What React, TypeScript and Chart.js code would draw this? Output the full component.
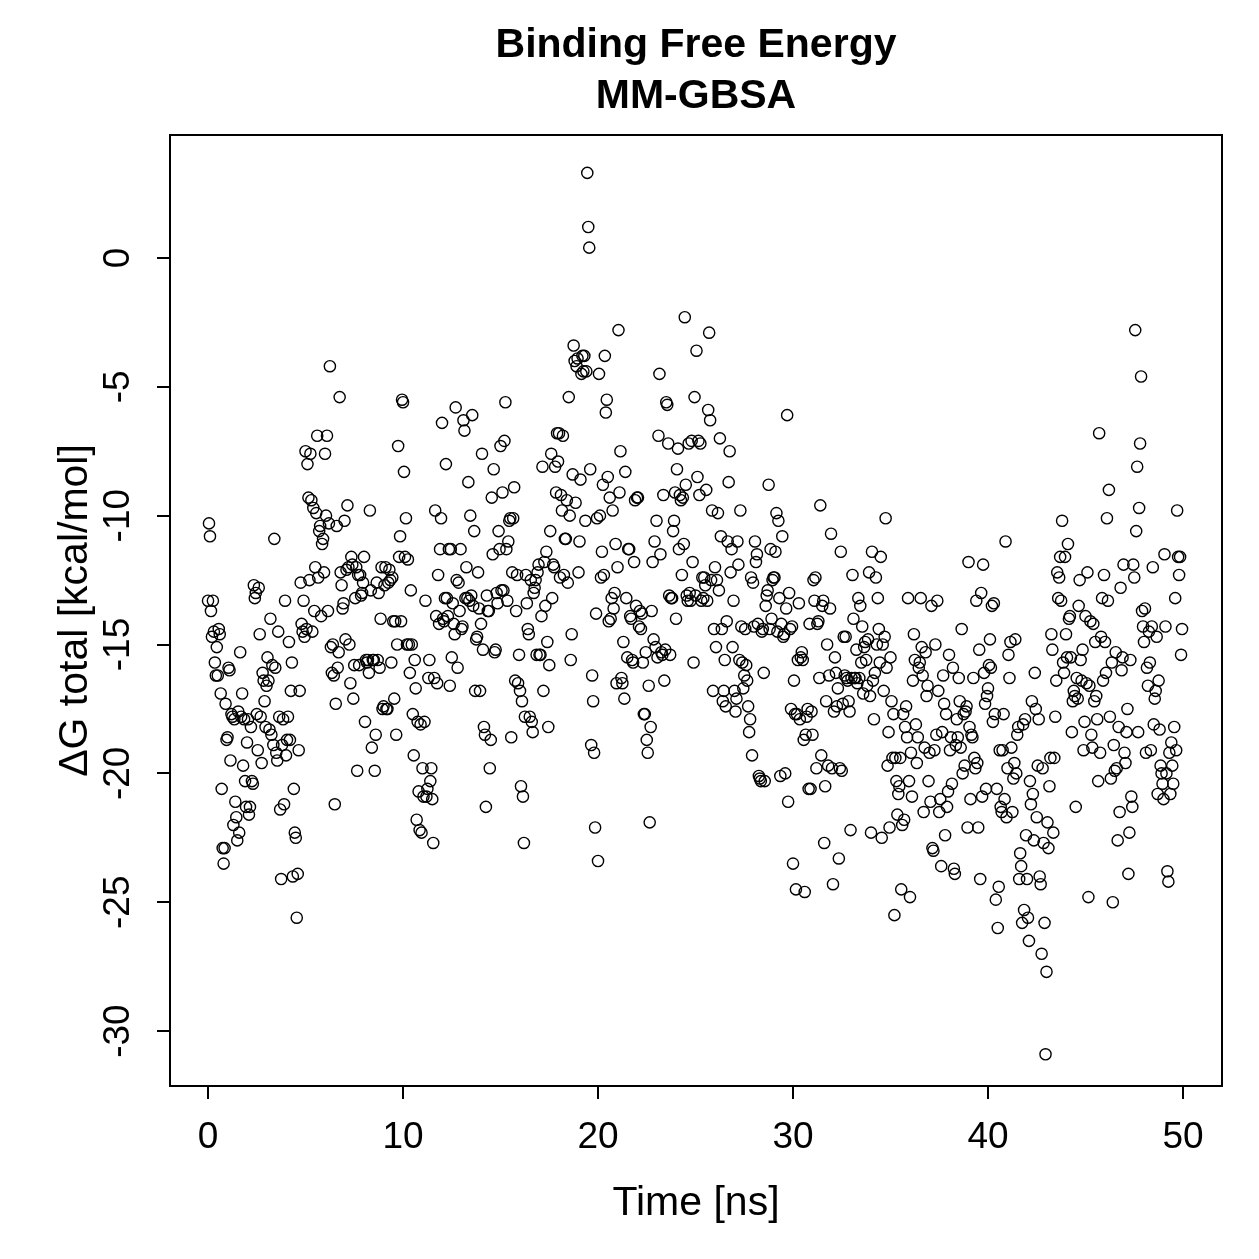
import { useEffect, useRef } from "react";
import { Chart, registerables } from "chart.js";

Chart.register(...registerables);

// Titles and axis labels
const chartTitle = ["Binding Free Energy", "MM-GBSA"];
const xAxisTitle = "Time [ns]";
const yAxisTitle = "ΔG total [kcal/mol]";

// Tick labels
const xTicks = [0, 10, 20, 30, 40, 50];
const yTicks = [0, -5, -10, -15, -20, -25, -30];

// Trajectory frames are saved every 0.05 ns (20 frames per ns)
const frameStep = 0.05;

// ΔG total per frame [kcal/mol], 0–5 ns
const dG_00_05 = [
  -13.3, -10.3, -10.8, -13.7, -14.7, -13.3, -14.5, -15.7, -16.2, -15.1, -16.2, -14.4, -14.6, -16.9, -20.6, -22.9, -23.5, -22.9, -17.3, -18.7,
  -18.6, -15.9, -16.0, -19.5, -17.7, -17.8, -22.0, -17.9, -21.1, -21.7, -22.6, -17.6, -22.3, -15.3, -17.8, -16.9, -19.7, -17.9, -20.3, -21.3,
  -18.8, -17.9, -21.6, -21.3, -18.2, -20.3, -20.4, -12.7, -13.2, -13.0, -17.7, -19.1, -12.8, -14.6, -17.8, -19.6, -16.1, -16.4, -17.2, -18.2,
  -16.6, -15.5, -16.4, -18.3, -14.0, -18.5, -15.8, -18.9, -10.9, -15.9, -19.2, -19.5, -14.5, -17.8, -21.4, -24.1, -18.9, -17.9, -21.2, -13.3,
  -19.3, -18.7, -17.8, -14.9, -18.7, -16.8, -15.7, -24.0, -20.6, -22.3, -22.5, -25.6, -23.9, -19.1, -16.8, -12.6, -14.2, -14.5, -13.3, -14.7,
];

// 5–10 ns
const dG_05_10 = [
  -7.5, -14.4, -8.0, -9.3, -12.5, -7.6, -9.4, -14.5, -9.7, -13.7, -12.0, -9.9, -6.9, -12.4, -10.6, -10.4, -13.9, -11.1, -10.9, -12.2,
  -7.6, -10.0, -6.9, -13.7, -10.3, -4.2, -15.1, -16.1, -15.0, -16.2, -21.2, -17.3, -10.4, -15.9, -15.3, -5.4, -12.2, -12.7, -13.6, -13.4,
  -10.2, -14.8, -12.1, -9.6, -12.0, -15.0, -16.5, -11.6, -11.9, -17.1, -15.8, -13.2, -12.0, -19.9, -12.3, -15.8, -12.3, -13.1, -13.0, -12.6,
  -11.6, -18.0, -15.6, -15.7, -15.6, -16.1, -9.8, -12.9, -19.0, -15.6, -15.6, -19.9, -18.5, -12.6, -15.6, -13.0, -15.9, -14.0, -12.0, -17.5,
  -17.4, -12.7, -12.0, -17.5, -17.5, -12.6, -12.1, -12.5, -15.7, -12.4, -14.1, -17.1, -14.1, -18.5, -15.0, -7.3, -11.6, -10.8, -14.1, -5.5,
];

// 10–15 ns
const dG_10_15 = [
  -5.6, -8.3, -11.6, -10.1, -15.0, -11.7, -15.0, -16.1, -12.9, -15.0, -17.7, -19.3, -15.6, -16.7, -21.8, -18.0, -20.7, -22.2, -18.1, -22.3,
  -19.8, -20.9, -18.0, -13.3, -20.9, -20.6, -16.3, -15.6, -20.3, -19.8, -21.0, -22.7, -16.3, -9.8, -13.9, -16.5, -12.3, -14.2, -11.3, -10.1,
  -6.4, -14.0, -14.1, -13.2, -8.0, -13.2, -13.9, -11.3, -16.6, -11.3, -15.5, -13.4, -14.2, -14.6, -5.8, -12.5, -15.9, -12.6, -13.7, -11.3,
  -14.4, -14.3, -6.3, -6.7, -13.2, -12.0, -13.2, -8.7, -13.3, -10.0, -13.1, -6.1, -13.5, -10.6, -16.8, -14.8, -14.7, -12.2, -13.6, -16.8,
  -14.2, -7.6, -15.2, -18.2, -18.5, -21.3, -13.1, -13.7, -13.7, -19.8, -18.7, -9.3, -11.5, -8.2, -15.3, -15.2, -13.0, -13.4, -10.6, -11.3,
];

// 15–20 ns
const dG_15_20 = [
  -7.3, -12.9, -9.1, -12.9, -7.1, -5.6, -11.3, -13.3, -11.0, -10.2, -10.1, -18.6, -12.2, -10.1, -8.9, -16.4, -13.7, -12.3, -16.5, -15.4,
  -16.8, -20.5, -17.2, -20.9, -22.7, -17.8, -12.3, -13.4, -14.4, -14.6, -17.8, -12.5, -18.0, -18.4, -13.0, -12.8, -12.5, -15.4, -12.2, -11.9,
  -15.4, -15.4, -13.9, -8.1, -16.8, -11.8, -13.5, -11.4, -14.9, -18.2, -15.8, -10.6, -7.6, -13.2, -11.9, -12.0, -8.1, -9.1, -6.8, -7.9,
  -6.8, -12.4, -9.2, -9.8, -6.9, -12.3, -10.9, -10.9, -9.4, -12.6, -5.4, -10.0, -15.6, -14.6, -8.4, -3.4, -4.0, -9.5, -4.2, -3.9,
  -12.2, -11.0, -8.6, -4.5, -3.8, -4.4, -3.8, -10.2, -4.4, 3.3, 1.2, 0.4, -8.2, -18.9, -16.2, -17.2, -19.2, -22.1, -13.8, -10.1,
];

// 20–25 ns
const dG_20_25 = [
  -23.4, -4.5, -10.0, -12.4, -11.4, -8.8, -12.3, -3.8, -6.0, -5.5, -8.5, -14.1, -9.3, -14.0, -13.2, -9.8, -13.6, -13.0, -11.1, -16.5,
  -12.0, -2.8, -9.1, -7.5, -16.3, -16.5, -14.9, -17.1, -8.3, -13.2, -15.5, -11.3, -11.3, -13.9, -14.0, -15.6, -15.7, -11.8, -9.4, -13.5,
  -9.3, -9.3, -14.3, -13.7, -14.4, -13.8, -15.7, -17.7, -17.7, -15.3, -18.7, -19.2, -16.6, -21.9, -18.2, -13.7, -11.8, -14.8, -11.0, -15.1,
  -10.2, -15.5, -6.9, -4.5, -11.5, -15.3, -15.4, -9.2, -16.4, -15.2, -5.6, -5.7, -7.2, -13.1, -15.4, -13.2, -13.2, -10.6, -10.2, -9.1,
  -14.0, -8.2, -7.4, -11.3, -9.2, -9.4, -12.3, -9.3, -11.1, -2.3, -8.8, -13.1, -13.3, -7.2, -13.0, -13.3, -7.1, -11.8, -15.7, -5.4,
];

// 25–30 ns
const dG_25_30 = [
  -13.1, -3.6, -8.5, -7.1, -9.2, -7.2, -13.3, -12.4, -13.2, -12.4, -12.7, -9.0, -13.3, -5.9, -2.9, -6.3, -12.5, -9.8, -16.8, -14.4,
  -12.0, -15.1, -12.5, -9.9, -12.9, -7.0, -10.8, -14.4, -17.2, -16.8, -15.6, -17.4, -14.1, -11.0, -8.7, -7.5, -12.2, -11.3, -15.1, -13.3,
  -16.8, -17.6, -17.1, -11.0, -11.9, -15.6, -9.8, -14.3, -15.7, -16.7, -16.2, -14.4, -15.8, -16.4, -17.4, -18.4, -17.9, -12.4, -19.3, -12.6,
  -14.3, -11.0, -11.8, -11.5, -14.2, -20.1, -20.2, -20.3, -14.5, -14.4, -16.1, -20.3, -13.5, -13.1, -12.9, -8.8, -14.4, -11.3, -14.0, -12.5,
  -12.4, -12.4, -11.4, -9.9, -14.5, -10.2, -13.2, -20.1, -14.2, -10.8, -14.7, -14.6, -20.0, -13.6, -6.1, -21.1, -13.0, -14.4, -17.5, -14.3,
];

// 30–35 ns
const dG_30_35 = [
  -23.5, -16.4, -17.7, -24.5, -17.7, -15.6, -13.4, -17.9, -15.5, -15.3, -15.6, -18.7, -24.6, -18.5, -17.8, -17.5, -20.6, -14.2, -20.6, -17.6,
  -18.5, -12.5, -13.3, -12.4, -19.8, -14.2, -14.1, -16.3, -9.6, -19.3, -13.5, -13.3, -22.7, -20.5, -17.2, -15.0, -19.7, -16.2, -13.6, -10.7,
  -19.8, -24.3, -17.6, -15.5, -16.1, -17.4, -16.7, -23.3, -19.8, -11.4, -19.9, -17.3, -14.7, -16.2, -14.7, -16.3, -16.4, -17.2, -17.6, -22.2,
  -16.3, -12.3, -14.0, -16.3, -16.3, -15.2, -16.5, -13.2, -16.3, -13.5, -15.7, -14.3, -16.9, -15.1, -14.9, -15.6, -16.6, -14.8, -12.2, -17.0,
  -22.3, -11.4, -16.4, -17.9, -16.1, -12.4, -15.0, -13.2, -14.4, -15.7, -11.6, -22.5, -15.0, -16.8, -14.7, -10.1, -15.9, -19.7, -18.4, -22.1,
];

// 35–40 ns
const dG_35_40 = [
  -15.5, -17.2, -19.4, -17.7, -25.5, -19.4, -20.3, -21.6, -20.8, -20.5, -19.4, -24.5, -22.0, -17.7, -21.8, -18.2, -17.4, -18.6, -13.2, -20.3,
  -24.8, -19.2, -20.9, -16.4, -14.6, -15.6, -18.1, -19.6, -18.6, -15.9, -15.7, -13.2, -15.1, -16.2, -21.5, -19.0, -15.3, -17.0, -16.6, -20.3,
  -19.2, -21.1, -13.5, -22.9, -23.0, -19.1, -15.0, -18.5, -13.3, -16.8, -21.5, -21.0, -23.6, -18.4, -16.2, -17.3, -22.4, -17.7, -21.3, -20.7,
  -15.4, -19.1, -18.6, -20.4, -15.9, -23.7, -23.9, -18.9, -17.9, -18.6, -16.3, -17.2, -19.0, -14.4, -20.0, -17.7, -19.7, -17.6, -17.4, -22.1,
  -11.8, -18.2, -21.0, -18.5, -18.6, -16.3, -19.4, -19.8, -13.3, -19.6, -22.1, -15.2, -24.1, -13.0, -20.9, -11.9, -16.1, -17.3, -20.6, -17.0,
];

// 40–45 ns
const dG_40_45 = [
  -16.7, -15.8, -14.8, -15.9, -13.5, -18.0, -13.4, -17.7, -24.9, -20.6, -26.0, -24.4, -19.1, -21.3, -21.5, -19.1, -17.7, -21.0, -11.0, -21.7,
  -19.8, -15.4, -16.3, -14.9, -19.0, -21.5, -20.2, -19.6, -14.8, -20.0, -18.5, -18.2, -24.1, -23.1, -23.6, -25.8, -18.1, -25.3, -17.9, -22.4,
  -24.1, -25.6, -26.5, -20.3, -21.2, -17.2, -20.8, -22.6, -16.1, -17.5, -21.7, -19.7, -17.9, -24.0, -24.3, -27.0, -19.8, -22.7, -25.8, -30.9,
  -27.7, -21.9, -22.9, -20.5, -19.4, -14.6, -15.2, -22.3, -19.4, -17.8, -16.4, -12.2, -13.2, -12.4, -11.6, -13.3, -10.2, -15.7, -16.1, -11.6,
  -14.6, -15.5, -11.1, -14.0, -13.9, -15.5, -18.4, -17.2, -16.8, -17.0, -21.3, -16.3, -17.1, -13.5, -12.5, -15.6, -16.4, -15.2, -19.1, -18.0,
];

// 45–50 ns
const dG_45_50 = [
  -13.9, -16.5, -12.2, -24.8, -16.6, -14.1, -18.5, -19.0, -14.2, -17.2, -14.9, -17.0, -17.9, -20.3, -6.8, -19.2, -14.7, -13.2, -16.4, -12.3,
  -14.9, -16.1, -10.1, -13.3, -9.0, -17.8, -20.2, -15.7, -25.0, -18.9, -19.9, -15.3, -19.8, -22.6, -18.2, -21.5, -12.8, -16.0, -15.5, -11.9,
  -19.2, -19.6, -18.4, -17.5, -23.9, -22.3, -15.6, -20.9, -21.3, -11.9, -12.4, -2.8, -10.6, -8.1, -18.4, -9.7, -7.2, -4.6, -13.7, -14.3,
  -14.9, -13.6, -19.2, -15.9, -16.6, -14.5, -15.7, -19.1, -14.3, -12.0, -18.1, -17.1, -16.8, -14.7, -20.8, -16.4, -18.3, -19.7, -20.0, -20.4,
  -21.0, -11.5, -14.3, -20.0, -23.8, -24.2, -19.2, -20.8, -18.8, -19.7, -20.4, -18.2, -13.2, -19.1, -9.8, -11.6, -12.3, -11.6, -15.4, -14.4,
];

const dGTotal = [
  ...dG_00_05, ...dG_05_10, ...dG_10_15, ...dG_15_20, ...dG_20_25,
  ...dG_25_30, ...dG_30_35, ...dG_35_40, ...dG_40_45, ...dG_45_50,
];

const FONT = "'Liberation Sans', Arial, Helvetica, sans-serif";

// Draws the plot box, tick labels, titles and axis labels in base-graphics style
const framePlugin = {
  id: "frameAndText",
  afterDraw(chart: any) {
    const { ctx, chartArea, scales } = chart;
    const xs = scales.x;
    const ys = scales.y;
    ctx.save();
    ctx.strokeStyle = "#000";
    ctx.lineWidth = 2;
    ctx.strokeRect(chartArea.left, chartArea.top, chartArea.right - chartArea.left, chartArea.bottom - chartArea.top);

    ctx.fillStyle = "#000";
    ctx.textAlign = "center";
    ctx.textBaseline = "middle";

    // x tick labels
    ctx.font = `37px ${FONT}`;
    for (const v of xTicks) {
      ctx.fillText(String(v), xs.getPixelForValue(v), 1138);
    }
    // y tick labels, rotated
    for (const v of yTicks) {
      ctx.save();
      ctx.translate(119, ys.getPixelForValue(v));
      ctx.rotate(-Math.PI / 2);
      ctx.fillText(String(v), 0, 0);
      ctx.restore();
    }

    const cx = (chartArea.left + chartArea.right) / 2;
    const cy = (chartArea.top + chartArea.bottom) / 2;

    // axis titles
    ctx.font = `41px ${FONT}`;
    ctx.fillText(xAxisTitle, cx, 1204);
    ctx.save();
    ctx.translate(76, cy);
    ctx.rotate(-Math.PI / 2);
    ctx.fillText(yAxisTitle, 0, 0);
    ctx.restore();

    // main title
    ctx.font = `bold 41px ${FONT}`;
    ctx.fillText(chartTitle[0], cx, 46);
    ctx.fillText(chartTitle[1], cx, 97);
    ctx.restore();
  },
};

export default function App() {
  const canvasRef = useRef<HTMLCanvasElement | null>(null);

  useEffect(() => {
    const canvas = canvasRef.current;
    if (!canvas) return;
    const points = dGTotal.map((y, i) => ({ x: i * frameStep, y }));

    const chart = new Chart(canvas, {
      type: "scatter",
      data: {
        datasets: [
          {
            data: points,
            pointStyle: "circle",
            pointRadius: 5.6,
            pointBorderWidth: 1.4,
            pointBorderColor: "#000",
            pointBackgroundColor: "rgba(0,0,0,0)",
          },
        ],
      },
      options: {
        responsive: false,
        animation: false,
        devicePixelRatio: 1,
        layout: { padding: { left: 0, right: 37, top: 135, bottom: 0 } },
        plugins: {
          legend: { display: false },
          tooltip: { enabled: false },
          title: { display: false },
        },
        scales: {
          x: {
            type: "linear",
            min: -1.95,
            max: 52,
            afterBuildTicks: (scale: any) => {
              scale.ticks = xTicks.map((value) => ({ value }));
            },
            afterFit: (scale: any) => {
              scale.height = 173;
            },
            ticks: { display: false },
            border: { display: false },
            grid: {
              display: true,
              drawOnChartArea: false,
              drawTicks: true,
              tickLength: 13,
              tickWidth: 2,
              tickColor: "#000",
              color: "#000",
              lineWidth: 2,
            },
          },
          y: {
            type: "linear",
            min: -32.13,
            max: 4.77,
            afterBuildTicks: (scale: any) => {
              scale.ticks = yTicks.map((value) => ({ value }));
            },
            afterFit: (scale: any) => {
              scale.width = 170;
            },
            ticks: { display: false },
            border: { display: false },
            grid: {
              display: true,
              drawOnChartArea: false,
              drawTicks: true,
              tickLength: 13,
              tickWidth: 2,
              tickColor: "#000",
              color: "#000",
              lineWidth: 2,
            },
          },
        },
      },
      plugins: [framePlugin],
    });

    return () => chart.destroy();
  }, []);

  return (
    <div style={{ position: "absolute", left: 0, top: 0, width: 1259, height: 1259, background: "#fff" }}>
      <canvas ref={canvasRef} width={1259} height={1259} style={{ display: "block" }} />
    </div>
  );
}
